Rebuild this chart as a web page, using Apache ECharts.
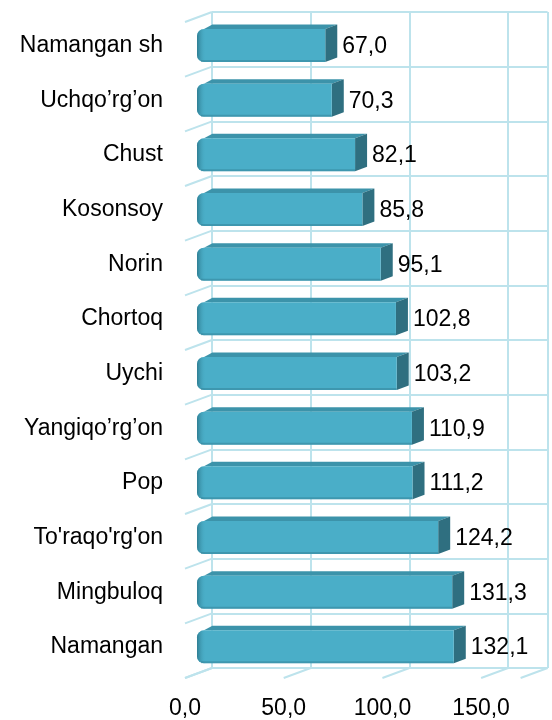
<!DOCTYPE html>
<html>
<head>
<meta charset="utf-8">
<script src="https://cdn.jsdelivr.net/npm/echarts@6/dist/echarts.min.js"></script>
<style>html,body{margin:0;padding:0;background:#fff;}#c{width:552px;height:720px;}</style>
</head>
<body>
<div id="c"></div>
<script>
var categories = ["Namangan sh","Uchqo’rg’on","Chust","Kosonsoy","Norin","Chortoq","Uychi","Yangiqo’rg’on","Pop","To'raqo'rg'on","Mingbuloq","Namangan"];
var values = [67.0,70.3,82.1,85.8,95.1,102.8,103.2,110.9,111.2,124.2,131.3,132.1];
var xTicks = [0,50,100,150];

var FONT = "'Liberation Sans', Arial, sans-serif";
var GRIDC = '#bde3ec';
var XMAX = 170, PLOTW = 335.6, PLOTH = 656;
var D = [-27, 10];
function fmt(v){ return v.toFixed(1).replace('.', ','); }

var chart = echarts.init(document.getElementById('c'));

function renderBar(params, api){
  var v = api.value(0), c = api.value(1);
  var s = api.coord([0, c]), e = api.coord([v, c]);
  var cy = s[1], h = 33, t = cy - h/2, b = cy + h/2;
  var x0 = s[0] + 4, x1 = e[0];
  var dx = 12, dy = -4.5;
  return {type:'group', children:[
    {type:'polygon', shape:{points:[[x0+7,t],[x1,t],[x1+dx,t+dy],[x0+7+dx*0.7,t+dy]]}, style:{fill:'#3c93aa'}},
    {type:'polygon', shape:{points:[[x1,t],[x1+dx,t+dy],[x1+dx,b+dy],[x1,b]]}, style:{fill:'#2f6f80'}},
    {type:'rect', shape:{x:x0, y:t, width:x1-x0, height:h, r:[7,0,0,7]}, style:{fill:'#4aaec8'}},
    {type:'rect', shape:{x:x0, y:t, width:9, height:h, r:[7,0,0,7]},
      style:{fill:new echarts.graphic.LinearGradient(0,0,1,0,[{offset:0,color:'#2f7d92'},{offset:1,color:'rgba(74,174,200,0)'}])}},
    {type:'rect', shape:{x:x0+4, y:b-2, width:x1-x0-4, height:2}, style:{fill:'rgba(40,110,130,0.35)'}},
    {type:'text', style:{x:x1+dx+5, y:cy+1, text:fmt(v), fill:'#000', font:'23px '+FONT, textVerticalAlign:'middle', textAlign:'left'}}
  ]};
}

function renderWall(params, api){
  var kind = api.value(0), k = api.value(1);
  var band = api.size([0,1])[1];
  var p, x, y;
  if (kind === 0) {
    p = api.coord([0, 0]);
    x = p[0]; y = p[1] - band/2 + k*band;
  } else {
    p = api.coord([k, 11]);
    x = p[0]; y = p[1] + band/2;
  }
  return {type:'line', shape:{x1:x, y1:y, x2:x+D[0], y2:y+D[1]}, style:{stroke:GRIDC, lineWidth:2}};
}

var wallData = [];
for (var i = 0; i <= categories.length; i++) wallData.push([0, i]);
xTicks.concat([XMAX]).forEach(function(t){ wallData.push([1, t]); });

chart.setOption({
  animation:false,
  backgroundColor:'#fff',
  grid:[
    {left:193, top:18.2, width:PLOTW, height:PLOTH},
    {left:212, top:12, width:PLOTW, height:PLOTH},
    {left:185, top:18, width:PLOTW, height:661}
  ],
  xAxis:[
    {gridIndex:0, type:'value', min:0, max:XMAX, interval:50, show:false},
    {gridIndex:1, type:'value', min:0, max:XMAX, interval:50, axisLabel:{show:false}, axisLine:{show:false}, axisTick:{show:false},
      splitLine:{show:true, lineStyle:{color:GRIDC, width:2}}},
    {gridIndex:2, type:'value', min:0, max:XMAX, interval:50, axisLine:{show:false}, axisTick:{show:false}, splitLine:{show:false},
      axisLabel:{show:true, margin:18, color:'#000', fontSize:23, fontFamily:FONT,
        formatter:function(v){ return xTicks.indexOf(v) >= 0 ? fmt(v) : ''; }}}
  ],
  yAxis:[
    {gridIndex:0, type:'category', data:categories, inverse:true, axisLine:{show:false}, axisTick:{show:false}, splitLine:{show:false},
      axisLabel:{margin:30, color:'#000', fontSize:23, fontFamily:FONT, padding:[10,0,0,0]}},
    {gridIndex:1, type:'category', data:categories, inverse:true, axisLine:{show:false}, axisTick:{show:false}, axisLabel:{show:false},
      splitLine:{show:true, lineStyle:{color:GRIDC, width:2}}},
    {gridIndex:2, type:'category', data:categories, inverse:true, show:false}
  ],
  series:[
    {type:'custom', xAxisIndex:1, yAxisIndex:1, renderItem:renderWall, data:wallData, silent:true, z:1},
    {type:'custom', xAxisIndex:0, yAxisIndex:0, renderItem:renderBar, encode:{x:0, y:1},
      data:values.map(function(v,i){ return [v, i]; }), z:5}
  ]
});
</script>
</body>
</html>
